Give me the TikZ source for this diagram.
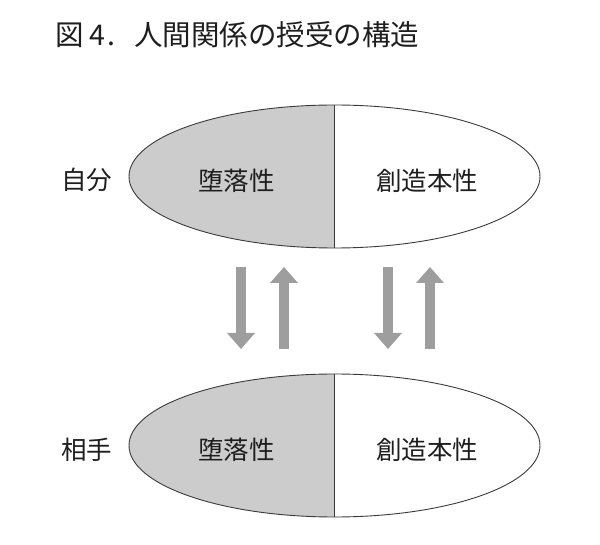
\documentclass[tikz,border=0pt]{standalone}
\usepackage{fontspec}
\setmainfont{Noto Sans CJK JP}
\usetikzlibrary{shapes.geometric,arrows.meta}
\definecolor{lineC}{HTML}{3A3A3A}
\definecolor{fillC}{HTML}{CCCCCC}
\definecolor{arrowC}{HTML}{9E9E9E}
\definecolor{textC}{HTML}{1E1E1E}
\tikzset{
  halfell/.style={ellipse, draw=lineC, line width=0.9pt, inner sep=0pt, outer sep=0pt,
    minimum width=411pt, minimum height=143pt,
    path picture={\fill[fillC] (path picture bounding box.south west) rectangle (path picture bounding box.north);}},
  lbl/.style={font=\fontsize{25.5}{30}\selectfont, text=textC, inner sep=0pt},
  flow/.style={draw=arrowC, line width=10pt, -{Triangle[width=27pt,length=16pt]}},
}
\begin{document}
\begin{tikzpicture}[x=1pt,y=-1pt]
\useasboundingbox (0,0) rectangle (600,545);
\node[anchor=west, font=\fontsize{28.5}{34}\selectfont, text=textC, inner sep=0pt] (title) at (55,35) {図\hspace{6pt}4\hspace{2pt}.\hspace{19pt}人間関係の授受の構造};
% ellipses
\node[halfell] (self) at (334.5,176.5) {};
\draw[lineC, line width=0.9pt] (self.north) -- (self.south);
\node[halfell] (other) at (334.5,445.5) {};
\draw[lineC, line width=0.9pt] (other.north) -- (other.south);
% labels
\node[lbl] (selfL) at (86.5,180) {自分};
\node[lbl] (selfA) at (236.5,180.5) {堕落性};
\node[lbl] (selfB) at (427,180.5) {創造本性};
\node[lbl] (otherL) at (86.5,450) {相手};
\node[lbl] (otherA) at (236.5,450) {堕落性};
\node[lbl] (otherB) at (427,450) {創造本性};
% arrows
\coordinate (a1s) at (241,267); \coordinate (a1e) at (241,349);
\coordinate (a2s) at (284,349); \coordinate (a2e) at (284,267);
\coordinate (a3s) at (388,267); \coordinate (a3e) at (388,349);
\coordinate (a4s) at (430,349); \coordinate (a4e) at (430,267);
\draw[flow] (a1s) -- (a1e);
\draw[flow] (a2s) -- (a2e);
\draw[flow] (a3s) -- (a3e);
\draw[flow] (a4s) -- (a4e);
\end{tikzpicture}
\end{document}
